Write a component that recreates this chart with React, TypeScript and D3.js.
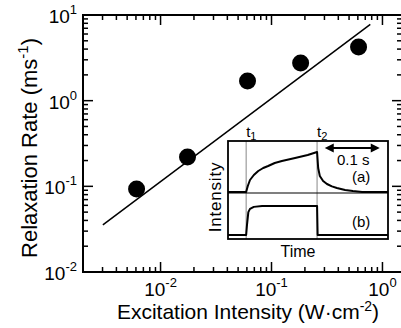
import React from "react";
import * as d3 from "d3";

// Main data: excitation intensity (W/cm^2) vs relaxation rate (1/ms)
const intensity = [0.00608, 0.0175, 0.0608, 0.183, 0.609];
const rate = [0.093, 0.22, 1.7, 2.75, 4.23];
// Fitted line endpoints
const fitX = [0.00302, 0.777];
const fitY = [0.0354, 7.78];

const xMajor = [0.01, 0.1, 1];
const yMajor = [0.01, 0.1, 1, 10];
const xTickExp = ["-2", "-1", "0"];
const yTickExp = ["-2", "-1", "0", "1"];

// Inset traces: time (ms) and normalised intensity
const traceATime = [0, 33, 36, 40, 47, 55, 64, 73, 85, 98, 122, 145, 162, 164, 167, 173, 180, 189, 198, 213, 227, 244, 291];
const traceAVal = [0, 0, 0.15, 0.3, 0.425, 0.525, 0.6, 0.65, 0.725, 0.775, 0.85, 0.925, 1.0, 0.6, 0.4, 0.275, 0.2, 0.14, 0.1, 0.05, 0.025, 0, 0];
const traceBTime = [0, 33, 34.5, 37, 40, 47, 62, 162, 163, 291];
const traceBVal = [0, 0, 0.34, 0.79, 0.9, 0.97, 1.0, 1.0, 0, 0];
const t1 = 33;
const t2 = 162;
const arrowSpan = [176, 276];

const FONT = "'Liberation Sans', Arial, Helvetica, sans-serif";

export default function App() {
  const L = 83, R = 402, T = 15, B = 272;
  const x = d3.scaleLog().domain([0.002, 1.5]).range([L, R]);
  const y = d3.scaleLog().domain([0.01, 10]).range([B, T]);
  const xt = x.ticks();
  const yt = y.ticks();
  const isMajor = (v: number) => Math.abs(Math.log10(v) - Math.round(Math.log10(v))) < 1e-6;

  // inset
  const iL = 228, iR = 388, iT = 141, iB = 239, iM = 193;
  const tx = d3.scaleLinear().domain([0, 291]).range([iL, iR]);
  const ya = d3.scaleLinear().domain([0, 1]).range([192, 152]);
  const yb = d3.scaleLinear().domain([0, 1]).range([235, 206]);
  const lineA = d3.line<number>().x((_, i) => tx(traceATime[i])).y((d) => ya(d));
  const lineB = d3.line<number>().x((_, i) => tx(traceBTime[i])).y((d) => yb(d));
  const fit = d3.line<number>().x((d) => x(d)).y((_, i) => y(fitY[i]));

  const ax1 = tx(arrowSpan[0]), ax2 = tx(arrowSpan[1]), ay = 148;

  return (
    <svg width={401} height={328} style={{ position: "absolute", left: 0, top: 0, background: "#fff" }} fontFamily={FONT}>
      {/* ticks */}
      {xt.map((v, i) => {
        const len = isMajor(v) ? 10 : 5;
        return (
          <g key={"xt" + i} stroke="#000" strokeWidth={1.5}>
            <line x1={x(v)} x2={x(v)} y1={B} y2={B - len} />
            <line x1={x(v)} x2={x(v)} y1={T} y2={T + len} />
          </g>
        );
      })}
      {yt.map((v, i) => {
        const len = isMajor(v) ? 10 : 5;
        return (
          <g key={"yt" + i} stroke="#000" strokeWidth={1.5}>
            <line x1={L} x2={L + len} y1={y(v)} y2={y(v)} />
            <line x1={R} x2={R - len} y1={y(v)} y2={y(v)} />
          </g>
        );
      })}
      <rect x={L} y={T} width={R - L} height={B - T} fill="none" stroke="#000" strokeWidth={2} />

      {/* tick labels */}
      {xMajor.map((v, i) => (
        <text key={"xl" + i} x={x(v)} y={296} textAnchor="middle" fontSize={19}>
          10<tspan fontSize={13} dy={-9}>{xTickExp[i]}</tspan>
        </text>
      ))}
      {yMajor.map((v, i) => (
        <text key={"yl" + i} x={77} y={y(v) + 8} textAnchor="end" fontSize={19}>
          10<tspan fontSize={13} dy={-9}>{yTickExp[i]}</tspan>
        </text>
      ))}

      {/* axis titles */}
      <text x={248} y={319} textAnchor="middle" fontSize={21}>
        Excitation Intensity (W·cm<tspan fontSize={14} dy={-8}>-2</tspan><tspan dy={8}>)</tspan>
      </text>
      <text transform="translate(37,148) rotate(-90)" textAnchor="middle" fontSize={22}>
        Relaxation Rate (ms<tspan fontSize={15} dy={-9}>-1</tspan><tspan dy={9}>)</tspan>
      </text>

      {/* fit line */}
      <path d={fit(fitX) || ""} fill="none" stroke="#000" strokeWidth={1.5} />
      {/* points */}
      {intensity.map((v, i) => (
        <circle key={"p" + i} cx={x(v)} cy={y(rate[i])} r={8.5} fill="#000" />
      ))}

      {/* inset */}
      <rect x={iL} y={iT} width={iR - iL} height={iB - iT} fill="#fff" stroke="none" />
      <line x1={tx(t1)} x2={tx(t1)} y1={iT} y2={iB} stroke="#888" strokeWidth={1} />
      <line x1={tx(t2)} x2={tx(t2)} y1={iT} y2={iB} stroke="#888" strokeWidth={1} />
      <line x1={iL} x2={iR} y1={iM} y2={iM} stroke="#000" strokeWidth={1.2} />
      <path d={lineA(traceAVal) || ""} fill="none" stroke="#000" strokeWidth={2} strokeLinejoin="round" />
      <path d={lineB(traceBVal) || ""} fill="none" stroke="#000" strokeWidth={2} strokeLinejoin="round" />
      <rect x={iL} y={iT} width={iR - iL} height={iB - iT} fill="none" stroke="#000" strokeWidth={1.8} />

      <text x={tx(t1)} y={137} fontSize={15}>
        t<tspan fontSize={11} dy={3}>1</tspan>
      </text>
      <text x={tx(t2)} y={137} fontSize={15}>
        t<tspan fontSize={11} dy={3}>2</tspan>
      </text>

      {/* 0.1 s arrow */}
      <line x1={ax1 + 6} x2={ax2 - 6} y1={ay} y2={ay} stroke="#000" strokeWidth={2} />
      <path d={`M${ax1},${ay} L${ax1 + 9},${ay - 4.5} L${ax1 + 9},${ay + 4.5} Z`} fill="#000" />
      <path d={`M${ax2},${ay} L${ax2 - 9},${ay - 4.5} L${ax2 - 9},${ay + 4.5} Z`} fill="#000" />
      <text x={337} y={165} fontSize={15}>0.1 s</text>
      <text x={352} y={182} fontSize={15}>(a)</text>
      <text x={352} y={227} fontSize={15}>(b)</text>

      <text x={298} y={257} textAnchor="middle" fontSize={16}>Time</text>
      <text transform="translate(221,197) rotate(-90)" textAnchor="middle" fontSize={17} letterSpacing={0.8}>
        Intensity
      </text>
    </svg>
  );
}
